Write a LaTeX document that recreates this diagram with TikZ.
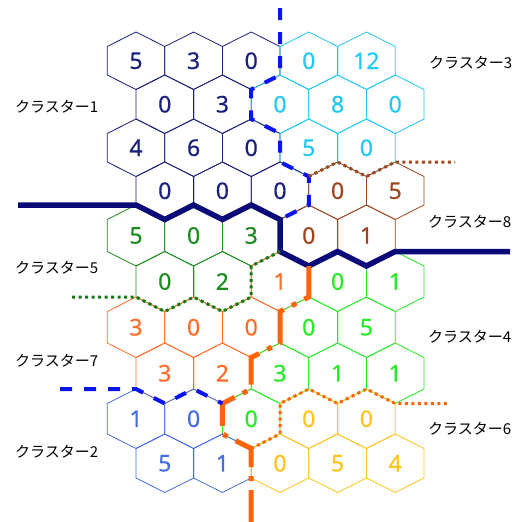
\documentclass[tikz,border=0pt]{standalone}
\usepackage{fontspec}
\setmainfont{Noto Sans}
\newfontfamily\numfont{Noto Sans}[FakeBold=0.6]
\newfontfamily\jp{Noto Sans CJK JP}
\definecolor{c1}{RGB}{28,32,125}
\definecolor{c3}{RGB}{35,200,245}
\definecolor{c8}{RGB}{160,70,30}
\definecolor{c5}{RGB}{30,140,30}
\definecolor{c4}{RGB}{40,235,40}
\definecolor{c7}{RGB}{255,110,40}
\definecolor{c2}{RGB}{70,110,225}
\definecolor{c6}{RGB}{255,195,30}
\definecolor{navyL}{RGB}{10,10,120}
\definecolor{blueL}{RGB}{10,20,240}
\definecolor{orangeL}{RGB}{255,100,10}
\definecolor{greenD}{RGB}{20,120,20}
\tikzset{
  hexline/.style={line width=0.8pt, line join=miter},
  numtext/.style={font=\numfont\fontsize{23}{23}\selectfont, inner sep=0pt},
  clabel/.style={font=\jp\fontsize{15}{15}\selectfont, anchor=base west, inner sep=0pt, text=black},
  navyline/.style={line width=5.5pt, draw=navyL},
  bluedash/.style={line width=4pt, draw=blueL, dash pattern=on 12pt off 12pt},
  browndot/.style={line width=3pt, draw=c8, dash pattern=on 3pt off 3.5pt},
  greendot/.style={line width=3pt, draw=greenD, dash pattern=on 3pt off 3.5pt},
  orangeline/.style={line width=5pt, draw=orangeL, dash pattern=on 36pt off 9pt on 5pt off 9pt},
  orangedot/.style={line width=3pt, draw=orangeL, dash pattern=on 3pt off 3.5pt}
}
\begin{document}
\begin{tikzpicture}[x=1pt,y=-1pt]
\useasboundingbox (0,0) rectangle (521,522);
\fill[white] (0,0) rectangle (521,522);
\foreach \r/\t/\l/\cells in {
 0/32/75/{c1/5,c1/3,c1/0,c3/0,c3/12},
 1/75/119/{c1/0,c1/3,c3/0,c3/8,c3/0},
 2/119/162/{c1/4,c1/6,c1/0,c3/5,c3/0},
 3/162/205/{c1/0,c1/0,c1/0,c8/0,c8/5},
 4/205/251.5/{c5/5,c5/0,c5/3,c8/0,c8/1},
 5/251.5/297/{c5/0,c5/2,c7/1,c4/0,c4/1},
 6/297/343/{c7/3,c7/0,c7/0,c4/0,c4/5},
 7/343/389/{c7/3,c7/2,c4/3,c4/1,c4/1},
 8/389/434/{c2/1,c2/0,c4/0,c6/0,c6/0},
 9/434/478/{c2/5,c2/1,c6/0,c6/5,c6/4}}
{
  \pgfmathsetmacro{\off}{mod(\r,2)*28.8}
  \foreach [count=\c from 0] \col/\num in \cells {
    \pgfmathsetmacro{\cx}{136+57.6*\c+\off}
    \draw[hexline,\col] (\cx,\t) -- (\cx+28.8,\t+14.5) -- (\cx+28.8,\l) -- (\cx,\l+14.5) -- (\cx-28.8,\l) -- (\cx-28.8,\t+14.5) -- cycle;
    \node[numtext,text=\col] (n\r\c) at (\cx,{(\t+\l+14.5)/2}) {\num};
  }
}
% boundaries
\draw[navyline] (18,205) -- (136,205) -- (164.8,219.5) -- (193.6,205) -- (222.4,219.5) -- (251.2,205) -- (280,219.5) -- (280,251.5) -- (308.8,266) -- (337.6,251.5) -- (366.4,266) -- (395.2,251.5) -- (510,251.5);
\draw[bluedash] (280,8) -- (280,75) -- (251.2,89.5) -- (251.2,119) -- (280,133.5) -- (280,162) -- (308.8,176.5) -- (308.8,205) -- (280,219.5);
\draw[browndot] (308.8,176.5) -- (337.6,162) -- (366.4,176.5) -- (395.2,162) -- (455,162);
\draw[greendot] (72,297) -- (136,297) -- (164.8,311.5) -- (193.6,297) -- (222.4,311.5) -- (251.2,297) -- (251.2,266) -- (280,251.5);
\draw[orangeline] (308.8,266) -- (308.8,297) -- (280,311.5) -- (280,343) -- (251.2,357.5) -- (251.2,389) -- (222.4,403.5) -- (222.4,434) -- (251.2,448.5) -- (251.2,522);
\draw[orangedot] (251.2,448.5) -- (280,434) -- (280,403.5) -- (308.8,389) -- (337.6,403.5) -- (366.4,389) -- (395.2,403.5) -- (450,403.5);
\draw[bluedash] (60,389) -- (136,389) -- (164.8,403.5) -- (193.6,389) -- (222.4,403.5);
% labels
\node[clabel] (lab1) at (15,112) {クラスター1};
\node[clabel] (lab3) at (429,68.5) {クラスター3};
\node[clabel] (lab8) at (428,227) {クラスター8};
\node[clabel] (lab5) at (15,273.5) {クラスター5};
\node[clabel] (lab4) at (428,342.5) {クラスター4};
\node[clabel] (lab7) at (15,366.5) {クラスター7};
\node[clabel] (lab6) at (428,434.5) {クラスター6};
\node[clabel] (lab2) at (15,457) {クラスター2};
\end{tikzpicture}
\end{document}
